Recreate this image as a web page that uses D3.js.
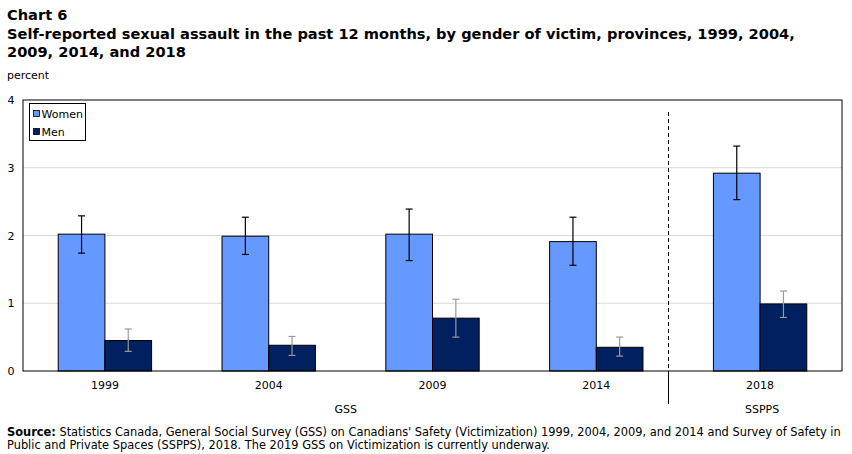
<!DOCTYPE html>
<meta charset="utf-8">
<style>
body { margin: 0; background: #fff; }
text { font-family: "DejaVu Sans", Verdana, sans-serif; fill: #000; }
</style>
<svg></svg>
<script src="https://d3js.org/d3.v7.min.js"></script>
<script>

var years = ["1999", "2004", "2009", "2014", "2018"];
var series = ["Women", "Men"];
var women = [2.02, 1.99, 2.02, 1.91, 2.92];
var womenLow = [1.74, 1.72, 1.63, 1.56, 2.53];
var womenHigh = [2.29, 2.27, 2.39, 2.27, 3.32];
var men = [0.45, 0.38, 0.78, 0.35, 0.99];
var menLow = [0.29, 0.23, 0.50, 0.22, 0.79];
var menHigh = [0.62, 0.51, 1.06, 0.50, 1.18];
var yTicks = [0, 1, 2, 3, 4];
var surveys = ["GSS", "SSPPS"];

var colors = {Women: "#6699ff", Men: "#002060"};
var errColors = {Women: "#000", Men: "#999"};

var width = 852, height = 454;
var margin = {top: 100, left: 23, right: 10, bottom: 83};

var svg = d3.select("svg")
    .attr("width", width)
    .attr("height", height);

var x = d3.scaleBand()
    .domain(years)
    .range([margin.left, width - margin.right])
    .paddingInner(0.43)
    .paddingOuter(0.215);

var x1 = d3.scaleBand()
    .domain(series)
    .range([0, x.bandwidth()]);

var y = d3.scaleLinear()
    .domain([0, 4])
    .range([height - margin.bottom, margin.top]);

var step = x.step();

// titles
svg.append("text").attr("x", 7).attr("y", 20)
    .style("font-size", "14.6px").style("font-weight", "bold").text("Chart 6");
svg.append("text").attr("x", 7).attr("y", 39)
    .style("font-size", "14.6px").style("font-weight", "bold")
    .text("Self-reported sexual assault in the past 12 months, by gender of victim, provinces, 1999, 2004,");
svg.append("text").attr("x", 7).attr("y", 57)
    .style("font-size", "14.6px").style("font-weight", "bold")
    .text("2009, 2014, and 2018");
svg.append("text").attr("x", 7).attr("y", 79)
    .style("font-size", "11px").text("percent");

// gridlines
svg.append("g").selectAll("line")
    .data(yTicks.filter(function(d) { return d > 0 && d < 4; }))
    .enter().append("line")
    .attr("x1", margin.left).attr("x2", width - margin.right)
    .attr("y1", function(d) { return y(d); }).attr("y2", function(d) { return y(d); })
    .attr("stroke", "#d9d9d9").attr("stroke-width", 1);

// y axis labels
svg.append("g").selectAll("text")
    .data(yTicks)
    .enter().append("text")
    .attr("x", 11).attr("y", function(d) { return y(d) + 4; })
    .attr("text-anchor", "middle")
    .style("font-size", "11px")
    .text(function(d) { return d; });

// divider between surveys
var divX = Math.round(x("2018") - step * 0.28) + 0.5;
svg.append("line")
    .attr("x1", divX).attr("x2", divX)
    .attr("y1", margin.top + 12).attr("y2", y(0))
    .attr("stroke", "#000").attr("stroke-dasharray", "4,3");
svg.append("line")
    .attr("x1", divX).attr("x2", divX)
    .attr("y1", y(0)).attr("y2", y(0) + 33)
    .attr("stroke", "#000");

// bars
var rows = years.map(function(yr, i) {
  return {year: yr, values: [
    {key: "Women", v: women[i], lo: womenLow[i], hi: womenHigh[i]},
    {key: "Men", v: men[i], lo: menLow[i], hi: menHigh[i]}
  ]};
});

var groups = svg.append("g").selectAll("g")
    .data(rows)
    .enter().append("g")
    .attr("transform", function(d) { return "translate(" + x(d.year) + ",0)"; });

groups.selectAll("rect")
    .data(function(d) { return d.values; })
    .enter().append("rect")
    .attr("x", function(d) { return x1(d.key); })
    .attr("width", x1.bandwidth())
    .attr("y", function(d) { return y(d.v); })
    .attr("height", function(d) { return y(0) - y(d.v); })
    .attr("fill", function(d) { return colors[d.key]; })
    .attr("stroke", "#000").attr("stroke-width", 1);

// error bars
var eb = groups.selectAll("g.err")
    .data(function(d) { return d.values; })
    .enter().append("g").attr("class", "err")
    .attr("stroke", function(d) { return errColors[d.key]; })
    .attr("stroke-width", 1.2);
eb.append("line")
    .attr("x1", function(d) { return x1(d.key) + x1.bandwidth() / 2; })
    .attr("x2", function(d) { return x1(d.key) + x1.bandwidth() / 2; })
    .attr("y1", function(d) { return y(d.lo); })
    .attr("y2", function(d) { return y(d.hi); });
eb.selectAll("line.cap")
    .data(function(d) { return [d.lo, d.hi].map(function(v) { return {key: d.key, v: v}; }); })
    .enter().append("line").attr("class", "cap")
    .attr("x1", function(d) { return x1(d.key) + x1.bandwidth() / 2 - 3.5; })
    .attr("x2", function(d) { return x1(d.key) + x1.bandwidth() / 2 + 3.5; })
    .attr("y1", function(d) { return y(d.v); })
    .attr("y2", function(d) { return y(d.v); });

// plot frame
svg.append("rect")
    .attr("x", margin.left).attr("y", margin.top)
    .attr("width", width - margin.right - margin.left)
    .attr("height", y(0) - margin.top)
    .attr("fill", "none").attr("stroke", "#000").attr("stroke-width", 1);

// x labels
svg.append("g").selectAll("text")
    .data(years)
    .enter().append("text")
    .attr("x", function(d) { return x(d) + x.bandwidth() / 2; })
    .attr("y", y(0) + 18)
    .attr("text-anchor", "middle")
    .style("font-size", "11px")
    .text(function(d) { return d; });

var surveyX = [(margin.left + divX) / 2, x("2018") + x.bandwidth() / 2 + 2];
svg.append("g").selectAll("text")
    .data(surveys)
    .enter().append("text")
    .attr("x", function(d, i) { return surveyX[i]; })
    .attr("y", y(0) + 42)
    .attr("text-anchor", "middle")
    .style("font-size", "11px")
    .text(function(d) { return d; });

// legend
var lg = svg.append("g").attr("transform", "translate(29.5,103.5)");
lg.append("rect").attr("width", 56).attr("height", 37)
    .attr("fill", "#fff").attr("stroke", "#000");
series.forEach(function(s, i) {
  lg.append("rect").attr("x", 4).attr("y", 7 + i * 18)
      .attr("width", 6).attr("height", 6)
      .attr("fill", colors[s]).attr("stroke", "#000").attr("stroke-width", 0.8);
  lg.append("text").attr("x", 12).attr("y", 14 + i * 18)
      .style("font-size", "11px").text(s);
});

// source
var src = svg.append("text").attr("x", 7).attr("y", 436).style("font-size", "11.4px");
src.append("tspan").style("font-weight", "bold").text("Source:");
src.append("tspan").text(" Statistics Canada, General Social Survey (GSS) on Canadians' Safety (Victimization) 1999, 2004, 2009, and 2014 and Survey of Safety in");
svg.append("text").attr("x", 7).attr("y", 449).style("font-size", "11.4px")
    .text("Public and Private Spaces (SSPPS), 2018. The 2019 GSS on Victimization is currently underway.");

</script>
